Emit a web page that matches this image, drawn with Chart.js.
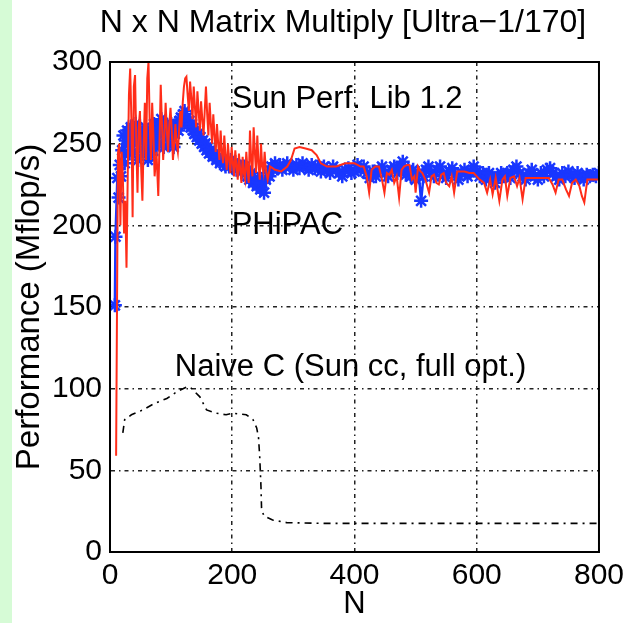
<!DOCTYPE html>
<html>
<head>
<meta charset="utf-8">
<script src="https://cdn.jsdelivr.net/npm/chart.js@4.4.1/dist/chart.umd.min.js"></script>
<style>
  html, body { margin: 0; padding: 0; background: #fff; }
  #strip { position: absolute; left: 0; top: 0; width: 12px; height: 623px; background: #d6fbd6; }
  #wrap { position: absolute; left: 0; top: 0; width: 630px; height: 623px; }
</style>
</head>
<body>
<div id="strip"></div>
<div id="wrap"><canvas id="chart" width="630" height="623"></canvas></div>
<script>
// Sun Performance Library 1.2 (red line)
const sunN = [10, 13, 15, 17, 19, 21, 23, 25, 27, 29, 31, 33, 35, 37, 39, 41, 43, 45, 47, 49,
  51, 53, 55, 57, 59, 61, 63, 65, 67, 69, 71, 73, 76, 79, 81, 83, 85, 87, 89, 91,
  93, 95, 97, 99, 101, 103, 105, 107, 109, 111, 113, 115, 117, 119, 121, 123, 125, 127, 129, 131,
  133, 135, 137, 139, 141, 143, 145, 147, 149, 151, 153, 155, 157, 159, 161, 163, 165, 167, 169, 171,
  173, 175, 177, 179, 181, 183, 185, 187, 189, 191, 193, 195, 197, 199, 201, 203, 205, 207, 209, 211,
  213, 215, 217, 219, 221, 223, 225, 227, 229, 231, 233, 235, 237, 239, 241, 243, 245, 247, 249, 251,
  253, 255, 258, 262, 270, 280, 290, 296, 302, 310, 320, 330, 338, 345, 355, 370, 385, 400,
  405, 410, 415, 420, 424, 428, 434, 440, 445, 449, 453, 457, 461, 465, 469, 473, 477, 481,
  486, 490, 494, 498, 500, 504, 508, 511, 516, 522, 526, 530, 534, 538, 542, 546, 550, 555,
  559, 563, 568, 574, 580, 588, 595, 600, 605, 612, 617, 622, 626, 631, 637, 642, 646, 650,
  655, 661, 666, 670, 675, 680, 690, 700, 710, 718, 724, 729, 734, 740, 746, 751, 756, 762,
  768, 772, 776, 781, 790, 800];
const sunMflops = [59, 244, 250, 200, 245, 230, 195, 215, 174, 230, 280, 296, 265, 205, 285, 292, 250, 220, 260, 270,
  235, 215, 250, 275, 240, 290, 300, 262, 240, 275, 255, 230, 245, 218, 250, 286, 262, 240, 255, 275,
  258, 245, 262, 272, 258, 240, 250, 262, 250, 245, 258, 270, 260, 275, 285, 290, 291, 280, 270, 288,
  278, 265, 285, 272, 260, 282, 270, 258, 276, 265, 255, 270, 285, 268, 255, 275, 262, 250, 268, 255,
  245, 262, 250, 240, 258, 245, 238, 255, 242, 234, 250, 240, 232, 248, 238, 230, 246, 236, 228, 244,
  234, 226, 242, 232, 228, 245, 234, 226, 258, 240, 230, 260, 245, 232, 255, 238, 228, 250, 236, 232,
  245, 234, 228, 236, 234, 233, 236, 240, 247, 248, 247, 246, 243, 238, 236, 236, 238, 238,
  237, 236, 236, 230, 220, 234, 236, 236, 228, 220, 232, 231, 234, 226, 230, 217, 234, 236,
  237, 237, 228, 230, 220, 236, 233, 232, 228, 220, 230, 231, 226, 225, 231, 232, 226, 224,
  230, 220, 233, 233, 233, 232, 232, 230, 228, 226, 220, 228, 219, 229, 215, 228, 230, 218,
  229, 230, 224, 229, 216, 229, 229, 229, 229, 229, 225, 220, 228, 228, 222, 218, 226, 228,
  224, 218, 214, 228, 228, 228];

// PHiPAC (blue line with star markers)
const phiN = [8, 9, 12, 14, 16, 18, 20, 22, 24, 26, 28, 30, 32, 34, 36, 38, 40, 42, 44, 46,
  48, 50, 52, 54, 56, 58, 60, 62, 64, 66, 68, 70, 72, 74, 76, 78, 80, 82, 84, 86,
  88, 90, 92, 94, 96, 98, 100, 102, 104, 106, 108, 110, 112, 114, 116, 118, 120, 122, 124, 126,
  128, 130, 132, 134, 136, 138, 140, 142, 144, 146, 148, 150, 152, 154, 156, 158, 160, 162, 165, 168,
  171, 174, 177, 180, 183, 186, 189, 192, 195, 198, 201, 204, 207, 210, 213, 216, 219, 222, 225, 228,
  231, 234, 237, 240, 243, 246, 249, 252, 255, 258, 261, 264, 267, 270, 274, 278, 282, 286, 290, 295,
  300, 305, 310, 315, 320, 325, 330, 335, 340, 345, 350, 355, 360, 365, 370, 375, 380, 385, 390, 395,
  400, 405, 410, 415, 420, 425, 430, 435, 440, 445, 450, 455, 460, 465, 470, 475, 479, 484, 488, 492,
  496, 500, 505, 509, 513, 517, 521, 525, 530, 535, 540, 545, 550, 555, 560, 565, 570, 575, 580, 585,
  590, 595, 600, 605, 610, 615, 620, 625, 630, 635, 640, 645, 650, 655, 660, 665, 670, 675, 680, 685,
  690, 695, 700, 705, 710, 715, 720, 725, 730, 735, 740, 745, 750, 755, 760, 765, 770, 775, 780, 785,
  790, 795, 800];
const phiMflops = [151, 193, 229, 217, 237, 230, 246, 255, 238, 252, 258, 250, 244, 260, 252, 245, 258, 262, 250, 240,
  255, 258, 254, 245, 252, 260, 248, 240, 256, 250, 243, 256, 262, 252, 248, 258, 250, 262, 265, 255,
  248, 258, 262, 255, 250, 258, 262, 254, 248, 256, 260, 262, 258, 264, 266, 262, 268, 270, 264, 266,
  262, 264, 260, 262, 258, 256, 258, 254, 256, 252, 254, 250, 252, 248, 250, 246, 248, 244, 246, 242,
  243, 240, 242, 238, 240, 238, 236, 238, 236, 240, 236, 238, 234, 237, 236, 233, 236, 232, 230, 228,
  232, 226, 229, 224, 228, 222, 226, 220, 228, 232, 230, 236, 234, 238, 235, 237, 234, 236, 238, 236,
  234, 237, 235, 238, 236, 234, 237, 235, 236, 233, 236, 234, 232, 236, 234, 232, 230, 234, 235, 232,
  233, 237, 234, 236, 232, 229, 233, 230, 234, 236, 232, 230, 234, 236, 232, 236, 239, 231, 234, 230,
  234, 228, 232, 215, 230, 234, 236, 232, 230, 234, 236, 231, 229, 233, 235, 231, 228, 232, 234, 230,
  233, 236, 233, 230, 232, 228, 232, 230, 226, 230, 232, 230, 232, 229, 234, 236, 232, 230, 228, 232,
  234, 230, 228, 232, 230, 234, 235, 232, 230, 228, 232, 230, 233, 231, 229, 232, 230, 228, 231, 230,
  231, 230, 232];

// Naive C (Sun cc, full opt.) (black dash-dot line)
const naiveN = [21, 24, 35, 54, 73, 93, 109, 125, 131, 147, 158, 174, 190, 201, 223, 234, 240, 243, 245, 247,
  248, 252, 266, 289, 350, 450, 550, 650, 750, 800];
const naiveMflops = [73, 81, 84, 87, 91, 94, 98, 101, 101, 95, 87, 85, 84, 85, 84, 81, 76, 70, 58, 40,
  26, 22, 19.6, 18, 17.5, 17.5, 17.5, 17.5, 17.5, 17.5];

// Tick values
const xTicks = [0, 200, 400, 600, 800];
const yTicks = [0, 50, 100, 150, 200, 250, 300];

const FONT = '"Liberation Sans", Arial, sans-serif';

function toPoints(xs, ys) {
  return xs.map((x, i) => ({ x: x, y: ys[i] }));
}

// Title, box and curve labels
const decorPlugin = {
  id: "decor",
  afterDatasetsDraw(chart) {
    const ctx = chart.ctx;
    const area = chart.chartArea;
    const xs = chart.scales.x;
    const ys = chart.scales.y;
    ctx.save();
    ctx.fillStyle = "#000";
    ctx.font = "31px " + FONT;
    ctx.textBaseline = "middle";
    ctx.textAlign = "left";
    const labels = [
      ["Sun Perf. Lib 1.2", 199, 277],
      ["PHiPAC", 199, 200],
      ["Naive C (Sun cc, full opt.)", 106, 113]
    ];
    labels.forEach(l => {
      ctx.fillText(l[0], xs.getPixelForValue(l[1]), ys.getPixelForValue(l[2]));
    });
    ctx.strokeStyle = "#000";
    ctx.lineWidth = 2;
    ctx.strokeRect(area.left, area.top, area.right - area.left, area.bottom - area.top);
    ctx.textAlign = "center";
    ctx.font = "32px " + FONT;
    ctx.fillText("N x N Matrix Multiply [Ultra\u22121/170]", 343, 23);
    ctx.restore();
  }
};

const gridDash = [4, 4, 1.5, 4];

new Chart(document.getElementById("chart"), {
  type: "scatter",
  data: {
    datasets: [
      {
        label: "Sun Perf. Lib 1.2",
        data: toPoints(sunN, sunMflops),
        showLine: true,
        borderColor: "rgb(255,45,25)",
        backgroundColor: "rgb(255,45,25)",
        borderWidth: 2,
        pointRadius: 0,
        tension: 0,
        order: 0
      },
      {
        label: "PHiPAC",
        data: toPoints(phiN, phiMflops),
        showLine: true,
        borderColor: "rgb(25,55,255)",
        backgroundColor: "rgb(25,55,255)",
        borderWidth: 2.5,
        pointStyle: "star",
        pointRadius: 7,
        pointBorderWidth: 2.5,
        tension: 0,
        order: 1
      },
      {
        label: "Naive C (Sun cc, full opt.)",
        data: toPoints(naiveN, naiveMflops),
        showLine: true,
        borderColor: "#000",
        borderWidth: 1.6,
        borderDash: [7, 5, 2, 5],
        pointRadius: 0,
        tension: 0,
        order: 2
      }
    ]
  },
  options: {
    responsive: false,
    animation: false,
    layout: { padding: { top: 62, right: 30, left: 10, bottom: 0 } },
    plugins: {
      legend: { display: false },
      tooltip: { enabled: false },
      title: { display: false }
    },
    scales: {
      x: {
        type: "linear",
        min: 0,
        max: 800,
        afterBuildTicks: axis => { axis.ticks = xTicks.map(v => ({ value: v })); },
        afterFit: scale => { scale.height = 71; },
        ticks: { color: "#000", font: { family: FONT, size: 30 }, padding: 6, maxRotation: 0 },
        grid: { color: "#222", lineWidth: 1.5, drawTicks: false },
        border: { color: "#000", width: 2, dash: gridDash },
        title: { display: true, text: "N", color: "#000", font: { family: FONT, size: 31 }, padding: 0 }
      },
      y: {
        min: 0,
        max: 300,
        afterBuildTicks: axis => { axis.ticks = yTicks.map(v => ({ value: v })); },
        afterFit: scale => { scale.width = 100; },
        ticks: { color: "#000", font: { family: FONT, size: 30 }, padding: 8 },
        grid: { color: "#222", lineWidth: 1.5, drawTicks: false },
        border: { color: "#000", width: 2, dash: gridDash },
        title: { display: true, text: "Performance (Mflop/s)", color: "#000", font: { family: FONT, size: 33 }, padding: 0 }
      }
    }
  },
  plugins: [decorPlugin]
});
</script>
</body>
</html>
